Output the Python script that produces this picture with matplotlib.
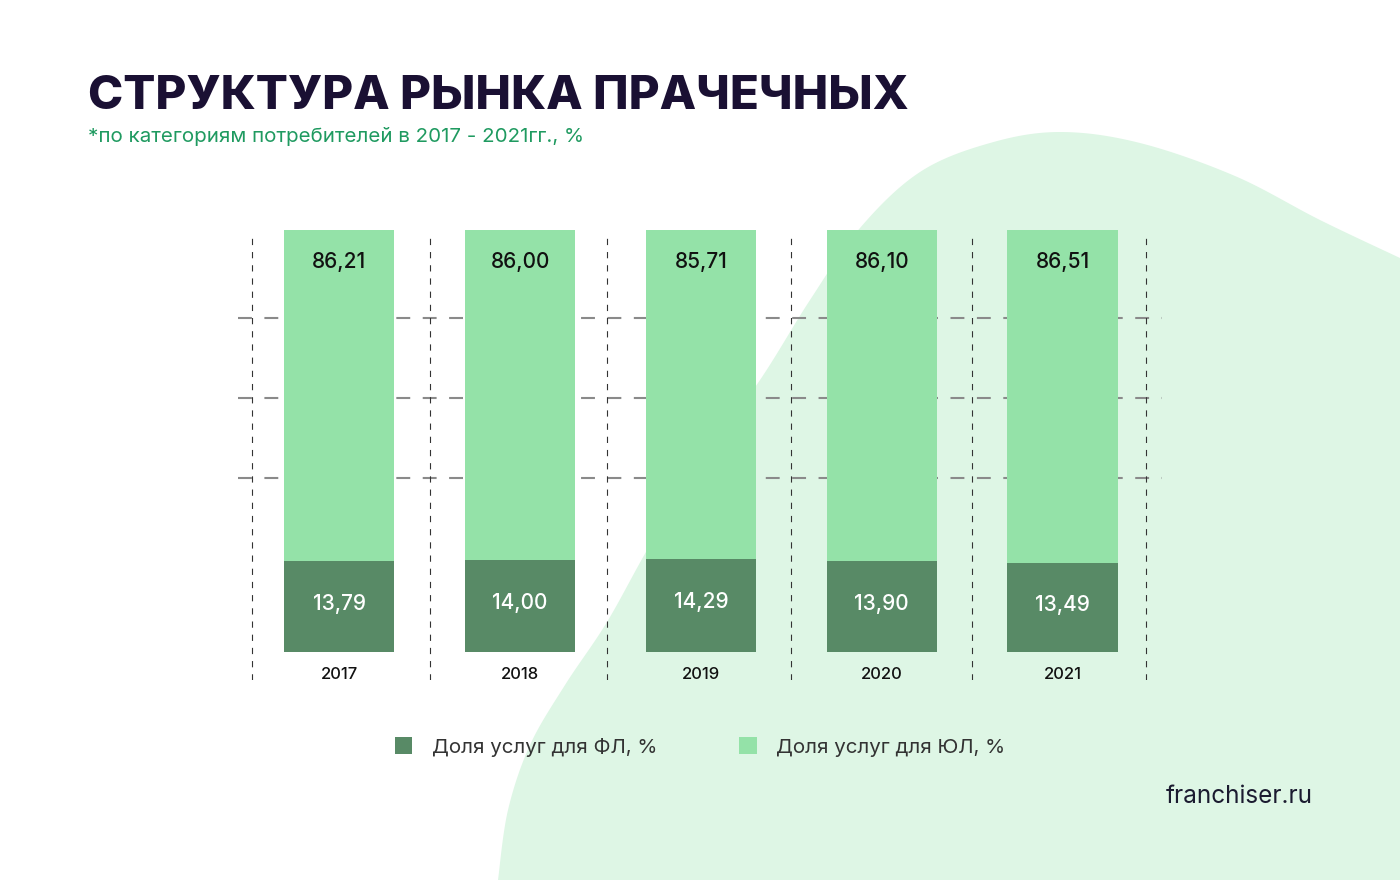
import numpy as np
import matplotlib
matplotlib.use("Agg")
import matplotlib.pyplot as plt
from matplotlib.patches import Polygon, Patch

plt.rcParams['font.family'] = ['Inter', 'DejaVu Sans']
plt.rcParams['lines.scale_dashes'] = False

# data
years = ['2017', '2018', '2019', '2020', '2021']
share_fl = [13.79, 14.00, 14.29, 13.90, 13.49]
share_ul = [86.21, 86.00, 85.71, 86.10, 86.51]
labels_fl = ['13,79', '14,00', '14,29', '13,90', '13,49']
labels_ul = ['86,21', '86,00', '85,71', '86,10', '86,51']
grid_y = [35.4, 56.2, 77.1]
separators = [-0.48, 0.5, 1.48, 2.5, 3.5, 4.46]

title = 'СТРУКТУРА РЫНКА ПРАЧЕЧНЫХ'
subtitle = '*по категориям потребителей в 2017 - 2021гг., %'
legend_names = ['Доля услуг для ФЛ, %', 'Доля услуг для ЮЛ, %']

dark = '#588a66'
light = '#94e2a8'
blob = '#def6e5'

# decorative background shape (pixel coords of the figure)
blob_x = [498, 508, 530, 565, 607, 650, 705, 760, 810, 860, 920, 990,
          1060, 1140, 1235, 1320, 1400]
blob_y = [880, 810, 745, 685, 622, 545, 455, 380, 300, 228, 172, 143,
          132, 143, 176, 220, 258]


def smooth(px, py, n=20):
    # catmull-rom through the outline points
    p = np.column_stack([px, py]).astype(float)
    p = np.vstack([p[0], p, p[-1]])
    out = []
    t = np.linspace(0, 1, n, endpoint=False)[:, None]
    for i in range(1, len(p) - 2):
        p0, p1, p2, p3 = p[i - 1], p[i], p[i + 1], p[i + 2]
        out.append(0.5 * (2 * p1 + (-p0 + p2) * t + (2 * p0 - 5 * p1 + 4 * p2 - p3) * t ** 2
                          + (-p0 + 3 * p1 - 3 * p2 + p3) * t ** 3))
    out.append(p[-2][None, :])
    return np.vstack(out)


# the reference stretches the lower segment, keep the same look
def fwd(y):
    y = np.asarray(y, dtype=float)
    return np.where(y <= 14, y * 92 / 14, 92 + (y - 14) * 330 / 86)


def inv(p):
    p = np.asarray(p, dtype=float)
    return np.where(p <= 92, p * 14 / 92, 14 + (p - 92) * 86 / 330)


fig = plt.figure(figsize=(14, 8.8), dpi=100)

bg = fig.add_axes([0, 0, 1, 1], zorder=0)
bg.set_xlim(0, 1400)
bg.set_ylim(880, 0)
bg.axis('off')
outline = smooth(blob_x, blob_y)
outline = np.vstack([outline, [[1400, 880]]])
bg.add_patch(Polygon(outline, closed=True, facecolor=blob, edgecolor='none'))

ax = fig.add_axes([238 / 1400, 1 - 680 / 880, 924 / 1400, 450 / 880], zorder=1)
ax.set_facecolor('none')
ax.set_yscale('function', functions=(fwd, inv))
ax.set_xlim(-0.56, 4.55)
ax.set_ylim(-4.26, 100)

x = np.arange(len(years))
ax.bar(x, share_fl, width=0.61, color=dark, zorder=3)
ax.bar(x, share_ul, width=0.61, bottom=share_fl, color=light, zorder=3)

for gy in grid_y:
    ax.axhline(gy, color='#8a8a8a', lw=1.5, dashes=(10, 9), zorder=1)
ax.vlines(separators, -4.26, 99.3, color='#333333', lw=0.8, linestyles=(0, (4.5, 5)), zorder=2)

for i in range(len(years)):
    ax.annotate(labels_ul[i], (x[i], share_fl[i] + share_ul[i]), xytext=(0, -23),
                textcoords='offset points', ha='center', va='center', fontsize=15,
                fontweight='medium', color='#111111', zorder=4)
    ax.annotate(labels_fl[i], (x[i], share_fl[i] / 2), xytext=(0, 2),
                textcoords='offset points', ha='center', va='center', fontsize=15,
                fontweight='medium', color='white', zorder=4)
    ax.annotate(years[i], (x[i], 0), xytext=(0, -16), textcoords='offset points',
                ha='center', va='center', fontsize=12, fontweight='medium',
                color='#111111', zorder=4)

ax.set_xticks([])
ax.set_yticks([])
for s in ax.spines.values():
    s.set_visible(False)

fig.text(88 / 1400, 1 - 97 / 880, title, fontsize=34.2, fontweight='heavy',
         color='#1a1033', va='center', ha='left')
fig.text(88 / 1400, 1 - 137 / 880, subtitle, fontsize=14.8, color='#1f9a60',
         va='center', ha='left')

handles = [Patch(facecolor=dark), Patch(facecolor=light)]
fig.legend(handles, legend_names, loc='center', bbox_to_anchor=(0.5, 1 - 747 / 880),
           ncol=2, frameon=False, fontsize=14.8, handlelength=0.85, handleheight=0.85,
           handletextpad=0.95, columnspacing=4.0, labelcolor='#333333')

fig.text(1313 / 1400, 1 - 796 / 880, 'franchiser.ru', fontsize=17.5, color='#1b1b30',
         ha='right', va='center')

fig.savefig('out.png', dpi=100)
plt.close(fig)
